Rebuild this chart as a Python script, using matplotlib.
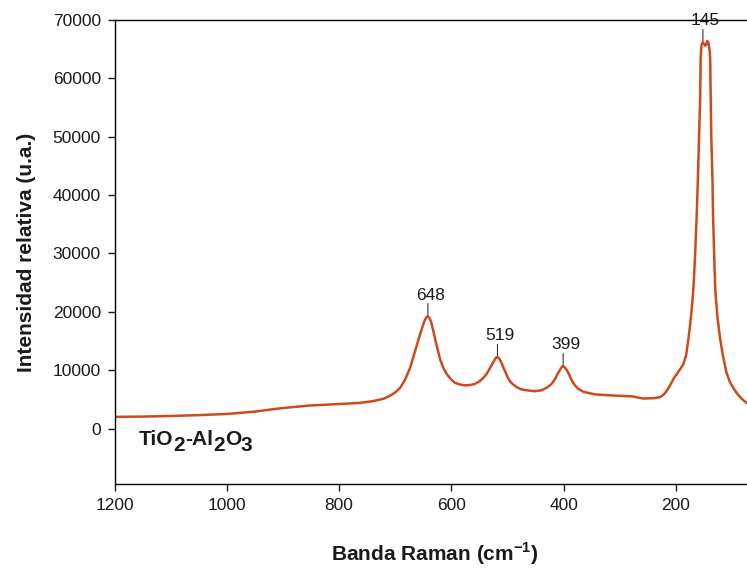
import matplotlib
matplotlib.use('Agg')
import matplotlib.pyplot as plt

plt.rcParams['font.family'] = ['Liberation Sans', 'DejaVu Sans']
plt.rcParams['mathtext.fontset'] = 'custom'
plt.rcParams['mathtext.rm'] = 'Liberation Sans'
plt.rcParams['mathtext.bf'] = 'Liberation Sans:bold'

# Raman spectrum (shift in cm-1, intensity in a.u.)
shift = [1200, 1150, 1100, 1050, 1000, 950, 911, 880, 852, 800,
         763, 740, 721, 708, 700, 692, 683, 674, 668, 661,
         656, 651, 647, 644, 642, 639, 636, 632, 629, 624,
         620, 614, 608, 601, 594, 585, 576, 567, 558, 550,
         543, 537, 531, 526, 522, 520, 518, 515, 512, 508,
         504, 500, 495, 490, 483, 475, 462, 451, 440, 430,
         422, 416, 410, 405, 403, 401, 399, 395, 390, 386,
         380, 374, 365, 356, 344, 320, 300, 277, 259, 240,
         228, 222, 217, 211, 205, 201, 199, 196, 193, 187,
         182, 178, 175, 172, 169, 166, 163, 161, 159, 157,
         156, 155, 154, 152, 150, 148, 146, 144, 142, 140,
         139, 138, 137, 135, 134, 132, 130, 126, 121, 116,
         110, 104, 98, 92, 83, 74, 60]
intensity = [2000, 2050, 2150, 2300, 2500, 2900, 3400, 3700, 3950, 4200,
             4400, 4700, 5100, 5700, 6200, 6900, 8300, 10300, 12200, 14500,
             16100, 17600, 18700, 19150, 19250, 18950, 18200, 16600, 15300, 13300,
             11800, 10300, 9300, 8450, 7850, 7550, 7400, 7450, 7650, 8100,
             8700, 9400, 10400, 11300, 11950, 12200, 12250, 12000, 11500, 10600,
             9700, 8800, 8000, 7550, 7050, 6700, 6500, 6400, 6550, 7000,
             7600, 8400, 9500, 10300, 10600, 10700, 10550, 10100, 9200, 8300,
             7400, 6800, 6300, 6100, 5850, 5700, 5600, 5500, 5150, 5200,
             5400, 5800, 6400, 7300, 8400, 9000, 9250, 9700, 10100, 11000,
             12500, 15200, 17600, 20400, 23800, 29500, 36700, 42500, 49600, 56000,
             63300, 65100, 65900, 66200, 65900, 65600, 65800, 66400, 66000, 64700,
             63300, 56000, 49600, 43000, 36700, 30000, 23800, 19000, 15200, 12300,
             9600, 8000, 7000, 6100, 5100, 4400, 3700]

# labelled bands: where the mark sits and what the label says
band_pos = [642, 518, 401, 152]
band_text = ['648', '519', '399', '145']

line_color = '#CC4A1C'
text_color = '#1a1a1a'

fig = plt.figure(figsize=(7.47, 5.69), dpi=100)
ax = fig.add_axes([0.1535, 0.1494, 0.8566, 0.8155])

ax.plot(shift, intensity, color=line_color, lw=1.8, solid_joinstyle='round')

for pos, txt in zip(band_pos, band_text):
    top = intensity[shift.index(pos)]
    ax.annotate('', xy=(pos, top + 250), xytext=(0, 8),
                textcoords='offset points',
                arrowprops=dict(arrowstyle='-', color='#333333', lw=0.8,
                                shrinkA=0, shrinkB=0))
    ax.annotate(txt, xy=(pos, top), xytext=(2, 12), textcoords='offset points',
                ha='center', va='baseline', fontsize=12.5, color=text_color)

ax.set_xlim(1200, 60)
ax.set_ylim(-9500, 70000)
ax.set_xticks([1200, 1000, 800, 600, 400, 200])
ax.set_yticks(range(0, 70001, 10000))
ax.tick_params(direction='out', length=5, width=1, labelsize=12.5,
               colors=text_color, pad=5)
ax.spines['right'].set_visible(False)
for s in ['left', 'top', 'bottom']:
    ax.spines[s].set_linewidth(1)

ax.set_xlabel(r'Banda Raman (cm$^{\mathbf{-1}}$)', fontsize=15,
              fontweight='bold', labelpad=20, color=text_color)
ax.set_ylabel('Intensidad relativa (u.a.)', fontsize=15, fontweight='bold',
              labelpad=12, color=text_color)

# sample name, subscripts kept at full size and only lowered
pieces = [('TiO', 0), ('2', -4), ('-Al', 4), ('2', -4), ('O', 4), ('3', -4)]
prev = ax.text(0.038, 0.084, pieces[0][0], transform=ax.transAxes, fontsize=15,
               fontweight='bold', va='baseline', color=text_color)
for s, dy in pieces[1:]:
    prev = ax.annotate(s, xy=(1, 0), xycoords=prev, xytext=(0, dy),
                       textcoords='offset points', ha='left', va='bottom',
                       fontsize=15, fontweight='bold', color=text_color)

fig.savefig('out.png', dpi=100)
